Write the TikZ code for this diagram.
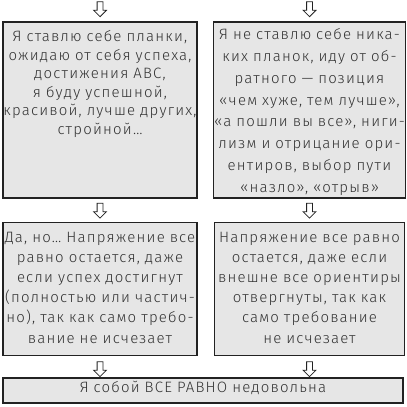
\documentclass[tikz,border=0pt]{standalone}
\usepackage{fontspec}
\setmainfont{Fira Sans}[UprightFont={* Light}, LetterSpace=8]
\usepackage{tikz}
\usetikzlibrary{positioning,shapes.arrows}
\definecolor{boxfill}{HTML}{E6E6E6}
\definecolor{boxline}{HTML}{222222}
\definecolor{inktext}{HTML}{333333}
\tikzset{node distance=15pt, auto,
  stepbox/.style={draw=boxline, line width=1.5pt, fill=boxfill, align=center,
    inner sep=0pt, text=inktext},
  toplead/.style={font=\fontsize{15}{18.5}\selectfont, text height=19.5pt, text depth=156.5pt},
  widelead/.style={font=\fontsize{15}{21.8}\selectfont, text height=17.7pt, text depth=158.3pt},
  midlead/.style={font=\fontsize{15}{20.2}\selectfont, text height=19.5pt, text depth=113.5pt},
  downarrow/.style={single arrow, shape border rotate=270, draw=boxline,
    fill=white, line width=0.8pt, minimum height=15pt, inner sep=2.5pt,
    single arrow head extend=3.5pt}}

\begin{document}
\begin{tikzpicture}[x=1pt, y=-1pt]
                \useasboundingbox (0,0) rectangle (407,407);
                \node (planki) [stepbox, toplead, text width=194pt] at (100,110)
                  {Я ставлю себе планки,\\ожидаю от себя успеха,\\достижения АВС,\\я буду успешной,\\красивой, лучше других,\\стройной…};
                \node (noplanki) [stepbox, widelead, text width=192pt, right=15pt of planki]
                  {Я не ставлю себе ника-\\ких планок, иду от об-\\ратного — позиция\\«чем хуже, тем лучше»,\\«а пошли вы все», ниги-\\лизм и отрицание ори-\\ентиров, выбор пути\\«назло», «отрыв»};
                \node (dano) [stepbox, midlead, text width=194pt, below=23pt of planki]
                  {Да, но… Напряжение все\\равно остается, даже\\если успех достигнут\\(полностью или частич-\\но), так как само требо-\\вание не исчезает};
                \node (napr) [stepbox, midlead, text width=190pt, below=23pt of noplanki]
                  {Напряжение все равно\\остается, даже если\\внешне все ориентиры\\отвергнуты, так как\\само требование\\не исчезает};
                \node (itog) [stepbox, font=\fontsize{15}{20}\selectfont, text width=400pt,
                  text height=14.5pt, text depth=10.5pt] at (203,390.5)
                  {Я собой ВСЕ РАВНО недовольна};
                % hollow arrows
                \node (a1) [downarrow, above=4pt of planki] {};
                \node (a2) [downarrow, above=4pt of noplanki] {};
                \node (a3) [downarrow, below=4pt of planki] {};
                \node (a4) [downarrow, below=4pt of noplanki] {};
                \node (a5) [downarrow, below=5pt of dano] {};
                \node (a6) [downarrow, below=5pt of napr] {};
              \end{tikzpicture}
\end{document}
